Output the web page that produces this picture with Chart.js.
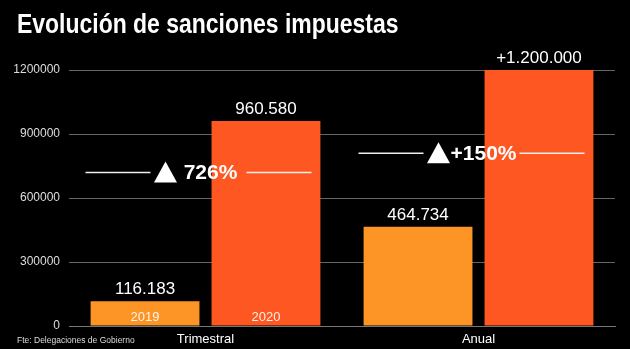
<!DOCTYPE html>
<html>
<head>
<meta charset="utf-8">
<script src="https://cdn.jsdelivr.net/npm/chart.js@4/dist/chart.umd.min.js"></script>
<style>
  html, body { margin: 0; padding: 0; background: #000; }
  #wrap { width: 630px; height: 349px; }
</style>
</head>
<body>
<div id="wrap"><canvas id="chart" width="630" height="349"></canvas></div>
<script>
// data
const categories = ['Trimestral', 'Anual'];
const years = ['2019', '2020'];
const values2019 = [116183, 464734];
const values2020 = [960580, 1200000];
const valueLabels2019 = ['116.183', '464.734'];
const valueLabels2020 = ['960.580', '+1.200.000'];
const changeLabels = ['726%', '+150%'];
const changeLevels = [720000, 810000];
const yTicks = [0, 300000, 600000, 900000, 1200000];

const titleText = 'Evolución de sanciones impuestas';
const sourceText = 'Fte: Delegaciones de Gobierno';
const colors = ['#fd9426', '#ff5722'];
const valueLabels = [valueLabels2019, valueLabels2020];
const FONT = '"Liberation Sans", Arial, sans-serif';

const overlay = {
    id: 'overlay',
    afterDatasetsDraw(chart) {
        const ctx = chart.ctx;
        const x = chart.scales.x;
        const y = chart.scales.y;
        ctx.save();
        ctx.fillStyle = '#fff';
        ctx.textAlign = 'center';

        // value labels above the bars, year labels inside the first group
        chart.data.datasets.forEach((ds, di) => {
            chart.getDatasetMeta(di).data.forEach((bar, i) => {
                ctx.font = '17px ' + FONT;
                ctx.textBaseline = 'bottom';
                ctx.fillText(valueLabels[di][i], bar.x, bar.y - 3);
                if (i === 0) {
                    ctx.font = '13px ' + FONT;
                    ctx.textBaseline = 'middle';
                    ctx.fillStyle = 'rgba(255,255,255,0.9)';
                    ctx.fillText(years[di], bar.x, y.getPixelForValue(0) - 9);
                    ctx.fillStyle = '#fff';
                }
            });
        });

        // change markers
        changeLabels.forEach((txt, i) => {
            const cx = x.getPixelForValue(i);
            const cy = y.getPixelForValue(changeLevels[i]);
            ctx.strokeStyle = '#eee';
            ctx.lineWidth = 1.5;
            ctx.beginPath();
            ctx.moveTo(cx - 120, cy);
            ctx.lineTo(cx - 55, cy);
            ctx.moveTo(cx + 41, cy);
            ctx.lineTo(cx + 106, cy);
            ctx.stroke();
            ctx.beginPath();
            ctx.moveTo(cx - 40, cy - 11);
            ctx.lineTo(cx - 28.5, cy + 10);
            ctx.lineTo(cx - 51.5, cy + 10);
            ctx.closePath();
            ctx.fill();
            ctx.font = 'bold 21px ' + FONT;
            ctx.textBaseline = 'middle';
            ctx.fillText(txt, cx + 5, cy + 1);
        });

        // title, condensed horizontally like the original
        ctx.save();
        ctx.translate(17, 0);
        ctx.scale(0.82, 1);
        ctx.font = 'bold 28px ' + FONT;
        ctx.textAlign = 'left';
        ctx.textBaseline = 'alphabetic';
        ctx.fillText(titleText, 0, 33);
        ctx.restore();

        // source note
        ctx.font = '8.5px ' + FONT;
        ctx.textAlign = 'left';
        ctx.textBaseline = 'middle';
        ctx.fillStyle = '#ddd';
        ctx.fillText(sourceText, 17, 341);
        ctx.restore();
    }
};

new Chart(document.getElementById('chart'), {
    type: 'bar',
    data: {
        labels: categories,
        datasets: years.map((yr, i) => ({
            label: yr,
            data: i === 0 ? values2019 : values2020,
            backgroundColor: colors[i],
            categoryPercentage: 0.886,
            barPercentage: 0.9
        }))
    },
    options: {
        responsive: false,
        animation: false,
        layout: { padding: { left: 4, right: 15, top: 70, bottom: 0 } },
        plugins: {
            legend: { display: false },
            tooltip: { enabled: false },
            title: { display: false }
        },
        scales: {
            x: {
                grid: { display: false, drawTicks: false },
                border: { color: '#777' },
                ticks: { color: '#fff', padding: 6, font: { family: FONT, size: 13 } },
                afterFit(scale) { scale.height = 23; }
            },
            y: {
                min: 0,
                max: 1200000,
                afterBuildTicks(scale) { scale.ticks = yTicks.map(v => ({ value: v })); },
                grid: { color: '#666', lineWidth: 1, drawTicks: false },
                border: { display: false },
                ticks: {
                    color: '#ddd',
                    padding: 9,
                    font: { family: FONT, size: 12 },
                    callback: v => String(v)
                },
                afterFit(scale) { scale.width = 65; }
            }
        }
    },
    plugins: [overlay]
});
</script>
</body>
</html>
